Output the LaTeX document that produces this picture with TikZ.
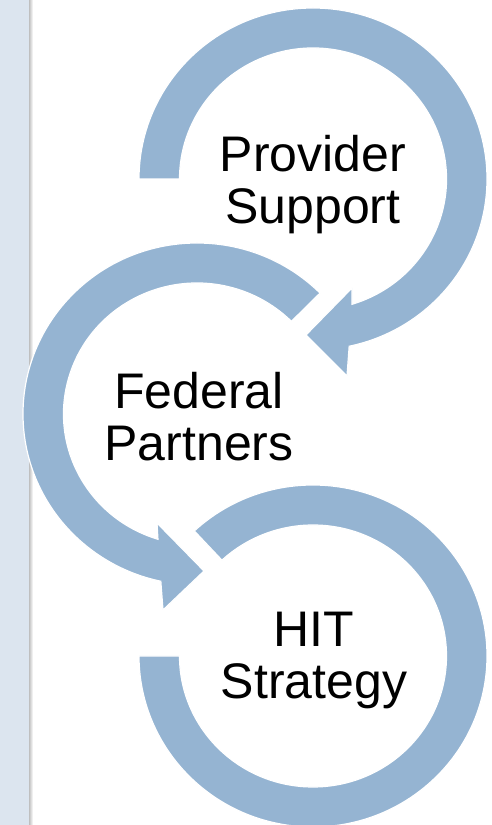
\documentclass[tikz,border=0pt]{standalone}
\usepackage{fontspec}
\setmainfont{Liberation Sans}
\definecolor{arcblue}{RGB}{149,180,210}
\definecolor{panelblue}{RGB}{220,229,239}
\tikzset{
  band/.style={fill=arcblue, draw=white, line width=1.2pt},
  stagetext/.style={align=center, font=\fontsize{50}{52}\selectfont, inner sep=0pt}
}
\begin{document}
\begin{tikzpicture}[x=1pt,y=1pt]
\useasboundingbox (0,0) rectangle (491,825);
\fill[panelblue] (0,0) rectangle (29,825);
\shade[left color=black!25, right color=white] (29,0) rectangle (33,825);
\coordinate (c1) at (313,646);
\coordinate (c2) at (197,411);
\coordinate (c3) at (313,169);
% top ring, arrow into the middle one
\filldraw[band] ([shift={(180:174 and 171)}]c1) arc[start angle=180, end angle=-78, x radius=174pt, y radius=171pt]
  -- (347,449) -- (306,490) -- (352,537)
  -- ([shift={(-73:133.5 and 131)}]c1) arc[start angle=-73, end angle=180, x radius=133.5pt, y radius=131pt] -- cycle;
% middle ring, arrow into the bottom one
\filldraw[band] ([shift={(45:174 and 171)}]c2) arc[start angle=45, end angle=258, x radius=174pt, y radius=171pt]
  -- (163,215) -- (204,254) -- (157,302)
  -- ([shift={(253:133.5 and 131)}]c2) arc[start angle=253, end angle=45, x radius=133.5pt, y radius=131pt] -- cycle;
% bottom ring
\filldraw[band] ([shift={(133:174 and 171)}]c3) arc[start angle=133, end angle=-180, x radius=174pt, y radius=171pt]
  -- ([shift={(180:133.5 and 131)}]c3) arc[start angle=-180, end angle=133, x radius=133.5pt, y radius=131pt] -- cycle;
\node[stagetext, anchor=base] (provider) at (313,601) {Provider\\Support};
\node[stagetext, anchor=base] (federal) at (199,364) {Federal\\Partners};
\node[stagetext, anchor=base] (hit) at (314,126) {HIT\\Strategy};
\end{tikzpicture}
\end{document}
